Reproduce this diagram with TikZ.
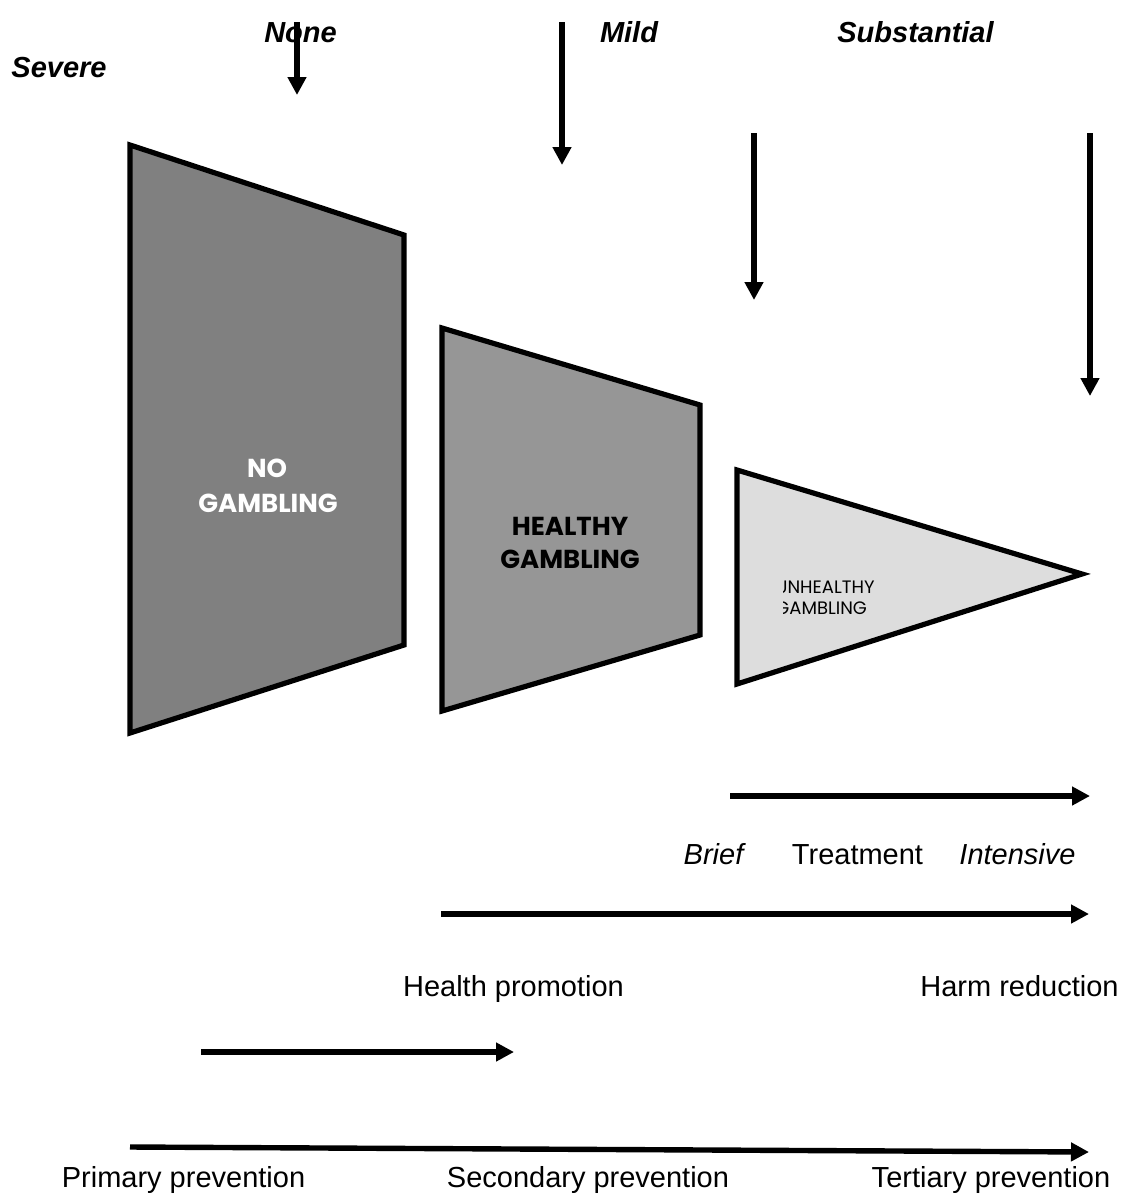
\documentclass[tikz,border=0pt]{standalone}
\usepackage{fontspec}
\setmainfont{Liberation Sans}
\newfontfamily\geofont{Poppins}
\usetikzlibrary{arrows.meta}
\begin{document}
\begin{tikzpicture}[x=0.5pt,y=-0.5pt,
  lbl/.style={inner sep=0pt, anchor=base, font=\fontsize{14.5}{17}\selectfont},
  itlbl/.style={lbl, font=\fontsize{14.5}{17}\selectfont\itshape},
  toplbl/.style={lbl, font=\fontsize{14.5}{17}\selectfont\bfseries\itshape},
  biglbl/.style={inner sep=0pt, anchor=base, font=\geofont\fontsize{13}{15}\selectfont\bfseries},
  smalllbl/.style={inner sep=0pt, anchor=base west, font=\geofont\fontsize{9}{11}\selectfont},
  arr/.style={line width=2.7pt, -{Triangle[length=9pt,width=9pt]}},
  shp/.style={draw=black, line width=2.6pt, line join=miter},
]
\useasboundingbox (0,0) rectangle (1122,1199);
\definecolor{noGray}{HTML}{808080}
\definecolor{healthyGray}{HTML}{969696}
\definecolor{unhealthyGray}{HTML}{DDDDDD}

% shapes
\path[shp, fill=noGray] (130,145) -- (404,235) -- (404,645) -- (130,733) -- cycle;
\path[shp, fill=healthyGray] (442,328) -- (700,405) -- (700,635) -- (442,711) -- cycle;
\path[shp, fill=unhealthyGray] (737,470) -- (1082,574) -- (737,684) -- cycle;

% shape labels
\node[biglbl, text=white] (no1) at (267,477) {NO};
\node[biglbl, text=white] (no2) at (268,512) {GAMBLING};
\node[biglbl] (he1) at (570,535) {HEALTHY};
\node[biglbl] (he2) at (570,568) {GAMBLING};
\begin{scope}
  \clip (783,560) rectangle (920,630);
  \node[smalllbl] (un1) at (775,593) {UNHEALTHY};
  \node[smalllbl] (un2) at (775,614) {GAMBLING};
\end{scope}

% top labels
\node[toplbl] (none) at (300.5,42) {None};
\node[toplbl] (mild) at (629,42) {Mild};
\node[toplbl] (subst) at (915.5,42) {Substantial};
\node[toplbl] (severe) at (59,77) {Severe};

% vertical arrows
\coordinate (v1s) at (297,22);  \coordinate (v1e) at (297,95);
\coordinate (v2s) at (562,22);  \coordinate (v2e) at (562,165);
\coordinate (v3s) at (754,133); \coordinate (v3e) at (754,300);
\coordinate (v4s) at (1090,133); \coordinate (v4e) at (1090,396);
\draw[arr] (v1s) -- (v1e);
\draw[arr] (v2s) -- (v2e);
\draw[arr] (v3s) -- (v3e);
\draw[arr] (v4s) -- (v4e);

% horizontal arrows
\coordinate (h1s) at (730,796);  \coordinate (h1e) at (1090,796);
\coordinate (h2s) at (441,914);  \coordinate (h2e) at (1089,914);
\coordinate (h3s) at (201,1052); \coordinate (h3e) at (514,1052);
\coordinate (h4s) at (130,1147); \coordinate (h4e) at (1089,1152);
\draw[arr] (h1s) -- (h1e);
\draw[arr] (h2s) -- (h2e);
\draw[arr] (h3s) -- (h3e);
\draw[arr] (h4s) -- (h4e);

% lower labels
\node[itlbl] (brief) at (713.5,864) {Brief};
\node[lbl] (treat) at (857.5,864) {Treatment};
\node[itlbl] (intens) at (1017.5,864) {Intensive};
\node[lbl] (hp) at (513.5,996) {Health promotion};
\node[lbl] (hr) at (1019.5,996) {Harm reduction};
\node[lbl] (pp) at (183.5,1187) {Primary prevention};
\node[lbl] (sp) at (588,1187) {Secondary prevention};
\node[lbl] (tp) at (991,1187) {Tertiary prevention};
\end{tikzpicture}
\end{document}
